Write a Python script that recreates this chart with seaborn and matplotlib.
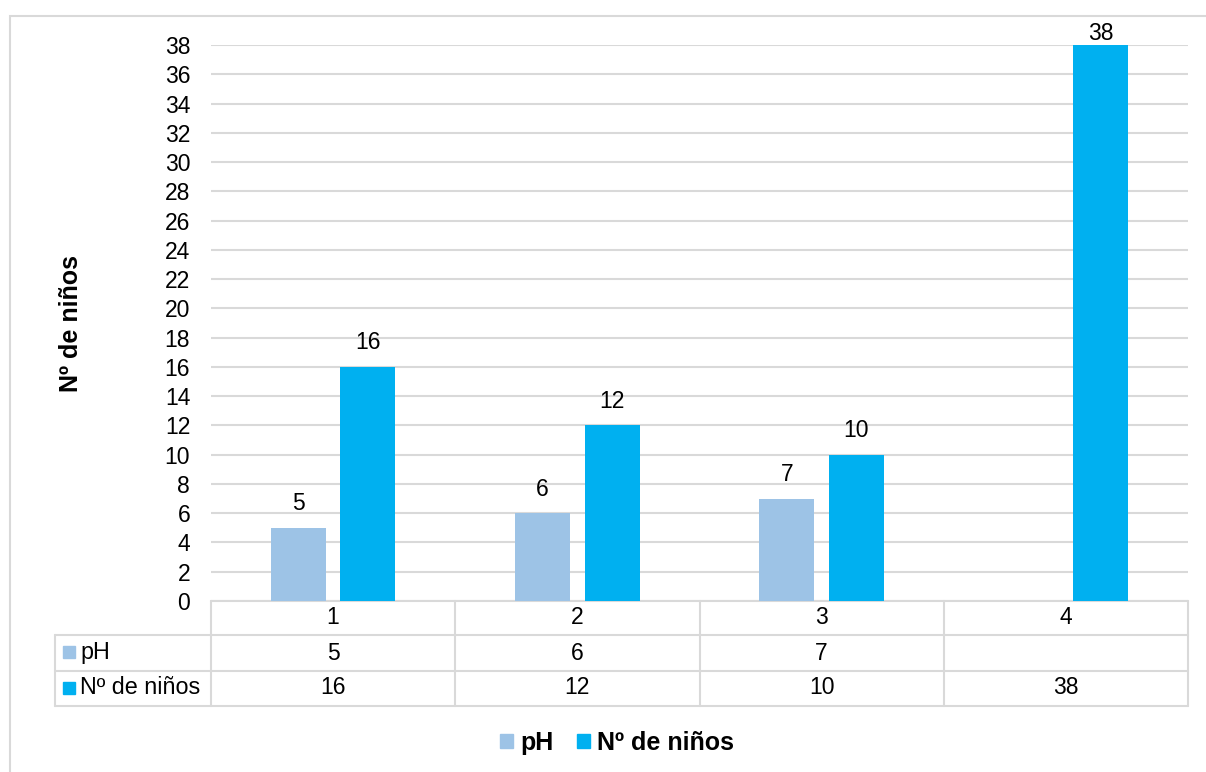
import matplotlib
matplotlib.use("Agg")
import matplotlib.pyplot as plt
import matplotlib.patches as mpatches
import matplotlib.transforms as mtransforms
import numpy as np
import pandas as pd
import seaborn as sns

# Data
categories = ["1", "2", "3", "4"]
ph_values = [5, 6, 7, None]
ninos_values = [16, 12, 10, 38]
series_names = ["pH", "Nº de niños"]
y_ticks = list(range(0, 40, 2))

colors = {"pH": "#9DC3E6", "Nº de niños": "#00B0F0"}
grid_color = "#D9D9D9"
font = "Liberation Sans"
fs = 16.5

sns.set_theme(style="white")
plt.rcParams["font.family"] = [font, "DejaVu Sans"]
plt.rcParams["text.color"] = "#000000"
plt.rcParams["ytick.color"] = "#000000"
plt.rcParams["axes.labelcolor"] = "#000000"

rows = []
for c, p, n in zip(categories, ph_values, ninos_values):
    rows.append({"cat": c, "serie": series_names[0], "valor": np.nan if p is None else p})
    rows.append({"cat": c, "serie": series_names[1], "valor": n})
df = pd.DataFrame(rows)

W, H = 1206, 772
fig = plt.figure(figsize=(W / 100, H / 100), dpi=100)
ax = fig.add_axes([211 / W, 1 - 601 / H, (1188 - 211) / W, (601 - 45) / H])

sns.barplot(data=df, x="cat", y="valor", hue="serie", order=categories,
            hue_order=series_names, palette=colors, width=0.569, gap=0.21,
            saturation=1, legend=False, ax=ax, zorder=3, linewidth=0,
            edgecolor="none")

ax.set_xlim(-0.5, len(categories) - 0.5)
ax.set_ylim(0, 38)
ax.set_yticks(y_ticks)
ax.set_yticklabels([str(t) for t in y_ticks], fontsize=fs)
ax.tick_params(axis="y", length=0, pad=15)
ax.set_xticks([])
ax.set_xlabel("")
ax.set_ylabel("Nº de niños", fontsize=18, fontweight="bold")
ax.yaxis.label.set(rotation_mode="default", ha="center", va="center")
ax.yaxis.set_label_coords((71 - 211) / (1188 - 211), (601 - 324) / (601 - 45))
ax.yaxis.grid(True, color=grid_color, linewidth=1.5, zorder=0)
for s in ax.spines.values():
    s.set_visible(False)

# Value labels on bars; a label at the top of the scale sits right on its bar
ymax = ax.get_ylim()[1]
for cont in ax.containers:
    labels = ["" if np.isnan(v) else f"{v:g}" for v in cont.datavalues]
    anns = ax.bar_label(cont, labels=labels, fontsize=fs, padding=9)
    for ann, v in zip(anns, cont.datavalues):
        if not np.isnan(v) and v >= ymax:
            ann.xyann = (0, 0)

# Data table below the plot
tr = mtransforms.blended_transform_factory(ax.transData, fig.transFigure)
trf = fig.transFigure
def fy(py):
    return 1 - py / H

row_y = [601, 635, 671, 706]
x_left = -0.5 - (211 - 55) / ((1188 - 211) / 4)
line_kw = dict(color=grid_color, linewidth=1.5, clip_on=False)
ax.plot([-0.5, 3.5], [fy(601)] * 2, transform=tr, **line_kw)
for yy in row_y[1:]:
    ax.plot([x_left, 3.5], [fy(yy)] * 2, transform=tr, **line_kw)
for i in range(len(categories) + 1):
    ax.plot([i - 0.5] * 2, [fy(601), fy(706)], transform=tr, **line_kw)
ax.plot([x_left] * 2, [fy(635), fy(706)], transform=tr, **line_kw)

for i, c in enumerate(categories):
    ax.text(i, fy(618), c, transform=tr, ha="center", va="center", fontsize=fs)
    p = ph_values[i]
    ax.text(i, fy(653), "" if p is None else f"{p:g}", transform=tr,
            ha="center", va="center", fontsize=fs)
    ax.text(i, fy(688), f"{ninos_values[i]:g}", transform=tr,
            ha="center", va="center", fontsize=fs)

for name, yy in zip(series_names, [652, 688]):
    fig.patches.append(mpatches.Rectangle((63 / W, fy(yy + 6)), 12 / W, 12 / H,
                                          transform=trf, color=colors[name]))
    fig.text(80 / W, fy(yy), name, ha="left", va="center", fontsize=16.8)

# Legend
handles = [mpatches.Patch(color=colors[n], label=n) for n in series_names]
fig.legend(handles=handles, loc="center", bbox_to_anchor=(617 / W, fy(743)),
           ncol=2, frameon=False, prop={"weight": "bold", "size": 18},
           handlelength=0.52, handleheight=0.52, handletextpad=0.28,
           columnspacing=0.95, borderaxespad=0, borderpad=0)

# Chart frame
fig.patches.append(mpatches.Rectangle((10 / W, -0.05), 1.2, fy(16) + 0.05,
                                      transform=trf, fill=False,
                                      edgecolor=grid_color, linewidth=1.5))

fig.savefig("out.png", dpi=100)
